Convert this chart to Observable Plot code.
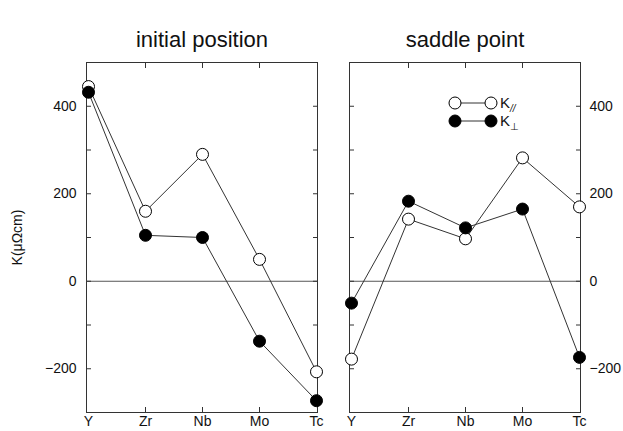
<!DOCTYPE html>
<html>
<head>
<meta charset="utf-8">
<script src="https://cdn.jsdelivr.net/npm/d3@7"></script>
<script src="https://cdn.jsdelivr.net/npm/@observablehq/plot@0.6"></script>
<style>
  body { margin: 0; background: #fff; }
</style>
</head>
<body>
<div id="chart"></div>
<script>
// Transition metals along the x axis and the two configurations (facets)
const elements = ["Y", "Zr", "Nb", "Mo", "Tc"];
const panels = ["initial position", "saddle point"];

// K values (μΩcm) for each element
const kParallelInitial = [445, 160, 290, 50, -207];
const kPerpInitial     = [432, 105, 100, -137, -273];
const kParallelSaddle  = [-178, 142, 97, 282, 170];
const kPerpSaddle      = [-50, 183, 122, 165, -174];

// Axis ticks
const yLabelTicks = [-200, 0, 200, 400];
const yAllTicks = [-200, -100, 0, 100, 200, 300, 400];
const xInnerTicks = ["Zr", "Nb", "Mo"];

const rows = [];
function addSeries(panel, series, values) {
  values.forEach((v, i) => rows.push({panel, series, element: elements[i], value: v}));
}
addSeries(panels[0], "par", kParallelInitial);
addSeries(panels[0], "perp", kPerpInitial);
addSeries(panels[1], "par", kParallelSaddle);
addSeries(panels[1], "perp", kPerpSaddle);

const font = "'Liberation Sans', Arial, Helvetica, sans-serif";
const blank = () => "";

const chart = Plot.plot({
  width: 623,
  height: 431,
  marginTop: 62,
  marginBottom: 19,
  marginLeft: 86,
  marginRight: 43,
  style: {fontFamily: font, fontSize: "14px", color: "#111", background: "#fff"},
  x: {type: "point", domain: elements, padding: 0},
  y: {domain: [-300, 500]},
  fx: {domain: panels, paddingInner: 0.122, paddingOuter: 0, label: null},
  marks: [
    Plot.frame({stroke: "#333"}),
    Plot.ruleY([0], {stroke: "#555"}),
    Plot.axisFx({anchor: "top", tickSize: 0, tickPadding: 16, fontSize: 22, label: null}),
    Plot.axisY(yLabelTicks, {anchor: "left", tickSize: 0, tickPadding: 10,
      label: "K(μΩcm)", labelAnchor: "center", labelArrow: "none", labelOffset: 74, fontSize: 14}),
    Plot.axisY(yLabelTicks, {anchor: "right", tickSize: 0, tickPadding: 9, label: null}),
    Plot.axisY(yAllTicks, {anchor: "left", facetAnchor: null, tickSize: -5, tickFormat: blank, label: null, stroke: "#333"}),
    Plot.axisY(yAllTicks, {anchor: "right", facetAnchor: null, tickSize: -5, tickFormat: blank, label: null, stroke: "#333"}),
    Plot.axisX({anchor: "bottom", tickSize: 0, tickPadding: 4, label: null}),
    Plot.axisX(xInnerTicks, {anchor: "bottom", tickSize: -5, tickFormat: blank, label: null, stroke: "#333"}),
    Plot.axisX(xInnerTicks, {anchor: "top", facetAnchor: null, tickSize: -5, tickFormat: blank, label: null, stroke: "#333"}),
    Plot.line(rows, {fx: "panel", x: "element", y: "value", z: "series", stroke: "#333", strokeWidth: 1}),
    Plot.dot(rows.filter(d => d.series === "par"), {fx: "panel", x: "element", y: "value", r: 6, fill: "#fff", stroke: "#000", strokeWidth: 1}),
    Plot.dot(rows.filter(d => d.series === "perp"), {fx: "panel", x: "element", y: "value", r: 6, fill: "#000", stroke: "#000", strokeWidth: 1})
  ]
});

document.getElementById("chart").appendChild(chart);

// Legend inside the saddle-point panel
const svg = d3.select(chart);
const fxScale = chart.scale("fx");
const x0 = fxScale && fxScale.apply ? fxScale.apply("saddle point") : 349;
const legendItems = [
  {fill: "#fff", main: "K", sub: "//", dy: 103},
  {fill: "#000", main: "K", sub: "⊥", dy: 121}
];
const lg = svg.append("g").attr("font-family", font).attr("text-anchor", "start");
legendItems.forEach(item => {
  lg.append("line").attr("x1", x0 + 106).attr("x2", x0 + 142)
    .attr("y1", item.dy).attr("y2", item.dy).attr("stroke", "#333");
  [106, 142].forEach(dx => lg.append("circle").attr("cx", x0 + dx).attr("cy", item.dy)
    .attr("r", 6).attr("fill", item.fill).attr("stroke", "#000"));
  const t = lg.append("text").attr("x", x0 + 151).attr("y", item.dy + 5).attr("font-size", 15).attr("fill", "#111");
  t.append("tspan").text(item.main);
  t.append("tspan").attr("dy", 4).attr("font-size", 10)
    .attr("font-style", item.sub === "//" ? "italic" : null).text(item.sub);
});
</script>
</body>
</html>
